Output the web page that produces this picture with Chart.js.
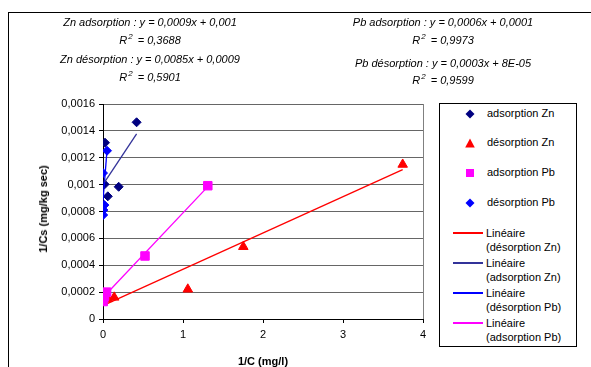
<!DOCTYPE html>
<html>
<head>
<meta charset="utf-8">
<script src="https://cdn.jsdelivr.net/npm/chart.js@4.4.1/dist/chart.umd.min.js"></script>
<style>
  html, body { margin: 0; padding: 0; background: #fff; }
  #wrap { position: relative; width: 591px; height: 367px; overflow: hidden; font-family: "Liberation Sans", Arial, sans-serif; color: #000; }
  #frame { position: absolute; left: 8px; top: 12px; width: 600px; height: 400px; border-left: 1px solid #000; border-top: 1px solid #000; box-sizing: border-box; }
  canvas { position: absolute; left: 0; top: 0; }
  .eq { position: absolute; font-size: 11px; font-style: italic; text-align: center; white-space: nowrap; transform: translateX(-50%); line-height: 12px; }
  .eq sup { font-size: 8px; vertical-align: 5px; line-height: 0; margin-left: 1px; margin-right: 2px; }
  .ttl { position: absolute; font-size: 11px; font-weight: bold; white-space: nowrap; }
  #legend { position: absolute; left: 439px; top: 103px; width: 138px; height: 244px; border: 1px solid #000; box-sizing: border-box; background: #fff; }
  .li { position: absolute; font-size: 11px; line-height: 14px; white-space: nowrap; }
  .ln { position: absolute; width: 30px; height: 2px; }
</style>
</head>
<body>
<div id="wrap">
  <div id="frame"></div>
  <canvas id="chart" width="591" height="367"></canvas>

  <div class="eq" style="left:150px; top:16px;">Zn adsorption : y = 0,0009x + 0,001</div>
  <div class="eq" style="left:150px; top:34px;">R<sup>2</sup> = 0,3688</div>
  <div class="eq" style="left:150px; top:53px;">Zn désorption : y = 0,0085x + 0,0009</div>
  <div class="eq" style="left:150px; top:71px;">R<sup>2</sup> = 0,5901</div>

  <div class="eq" style="left:443px; top:16px;">Pb adsorption : y = 0,0006x + 0,0001</div>
  <div class="eq" style="left:443px; top:34px;">R<sup>2</sup> = 0,9973</div>
  <div class="eq" style="left:443px; top:57px;">Pb désorption : y = 0,0003x + 8E-05</div>
  <div class="eq" style="left:443px; top:74px;">R<sup>2</sup> = 0,9599</div>

  <div class="ttl" id="xTitle" style="left:263px; top:355px; transform:translateX(-50%);">1/C (mg/l)</div>
  <div class="ttl" id="yTitle" style="left:43px; top:209px; transform:translate(-50%,-50%) rotate(-90deg);">1/Cs (mg/kg sec)</div>

  <div id="legend"></div>
</div>

<script>
// --- data ---
const adsZnX = [0.02, 0.025, 0.06, 0.196, 0.42];
const adsZnY = [0.001002, 0.001312, 0.000913, 0.000984, 0.001464];

const desZnX = [0.06, 0.14, 1.06, 1.754, 3.746];
const desZnY = [0.00015, 0.000161, 0.000221, 0.000538, 0.00115];

const adsPbX = [0.003, 0.008, 0.02, 0.045, 0.525, 1.31];
const adsPbY = [0.00013, 0.00015, 0.00017, 0.0002, 0.000469, 0.000992];

const desPbX = [0.0, 0.002, 0.005, 0.017, 0.05];
const desPbY = [0.001086, 0.000774, 0.000811, 0.000848, 0.001252];

// trend lines (slope, intercept) as drawn
const trendSlope = { desZn: 0.00027, adsZn: 0.0009, desPb: 0.0075, adsPb: 0.00063 };
const trendIntercept = { desZn: 0.0001, adsZn: 0.001, desPb: 0.00088, adsPb: 0.00016 };

const xTicks = [0, 1, 2, 3, 4];
const yTicks = [0, 0.0002, 0.0004, 0.0006, 0.0008, 0.001, 0.0012, 0.0014, 0.0016];

const seriesNames = ['adsorption Zn', 'désorption Zn', 'adsorption Pb', 'désorption Pb'];
const trendNames = ['Linéaire (désorption Zn)', 'Linéaire (adsorption Zn)', 'Linéaire (désorption Pb)', 'Linéaire (adsorption Pb)'];

function pts(xs, ys) {
    return xs.map((x, i) => ({ x: x, y: ys[i] }));
}

function trend(xs, key) {
    const lo = Math.min(...xs), hi = Math.max(...xs);
    return [lo, hi].map(x => ({ x: x, y: trendSlope[key] * x + trendIntercept[key] }));
}

function fmt(v) {
    return String(Number(v.toFixed(6))).replace('.', ',');
}

const FONT = '"Liberation Sans", Arial, sans-serif';

const datasets = [
    { label: seriesNames[0], data: pts(adsZnX, adsZnY), pointStyle: 'rectRot', pointRadius: 4.5,
      backgroundColor: '#000080', borderColor: '#000080', borderWidth: 1, showLine: false, order: 4 },
    { label: seriesNames[1], data: pts(desZnX, desZnY), pointStyle: 'triangle', pointRadius: 5.5,
      backgroundColor: '#FF0000', borderColor: '#FF0000', borderWidth: 1, showLine: false, order: 3 },
    { label: seriesNames[2], data: pts(adsPbX, adsPbY), pointStyle: 'rect', pointRadius: 6,
      backgroundColor: '#FF00FF', borderColor: '#FF00FF', borderWidth: 1, showLine: false, order: 2 },
    { label: seriesNames[3], data: pts(desPbX, desPbY), pointStyle: 'rectRot', pointRadius: 4.5,
      backgroundColor: '#0000FF', borderColor: '#0000FF', borderWidth: 1, showLine: false, order: 1 },
    { label: trendNames[0], data: trend(desZnX, 'desZn'), showLine: true, pointRadius: 0,
      borderColor: '#FF0000', borderWidth: 1.3, order: 0 },
    { label: trendNames[1], data: trend(adsZnX, 'adsZn'), showLine: true, pointRadius: 0,
      borderColor: '#333399', borderWidth: 1.3, order: 0 },
    { label: trendNames[2], data: trend(desPbX, 'desPb'), showLine: true, pointRadius: 0,
      borderColor: '#0000FF', borderWidth: 1.3, order: 0 },
    { label: trendNames[3], data: trend(adsPbX, 'adsPb'), showLine: true, pointRadius: 0,
      borderColor: '#FF00FF', borderWidth: 1.3, order: 0 }
];

new Chart(document.getElementById('chart'), {
    type: 'scatter',
    data: { datasets: datasets },
    options: {
        responsive: false,
        animation: false,
        devicePixelRatio: 1,
        layout: { padding: { left: 0, top: 104, right: 168, bottom: 0 } },
        plugins: { legend: { display: false }, tooltip: { enabled: false } },
        scales: {
            x: {
                type: 'linear', min: 0, max: 4,
                afterBuildTicks: s => { s.ticks = xTicks.map(v => ({ value: v })); },
                afterFit: s => { s.height = 48; },
                ticks: { color: '#000', font: { family: FONT, size: 11 }, padding: 5, callback: v => fmt(v) },
                grid: {
                    color: c => (c.tick && c.tick.value === 4 ? '#808080' : 'rgba(0,0,0,0)'),
                    tickColor: '#000', tickLength: 4, drawOnChartArea: true
                },
                border: { color: '#000', width: 1 }
            },
            y: {
                type: 'linear', min: 0, max: 0.0016,
                afterBuildTicks: s => { s.ticks = yTicks.map(v => ({ value: v })); },
                afterFit: s => { s.width = 103; },
                ticks: { color: '#000', font: { family: FONT, size: 11 }, padding: 4, callback: v => fmt(v) },
                grid: { color: '#666666', tickColor: '#000', tickLength: 4 },
                border: { color: '#000', width: 1 }
            }
        }
    }
});

// legend box, built from the same names and colours
const legend = document.getElementById('legend');
const markerSvg = [
    '<svg width="10" height="10"><polygon points="5,0.5 9.5,5 5,9.5 0.5,5" fill="#000080"/></svg>',
    '<svg width="10" height="10"><polygon points="5,0.5 9.8,9.5 0.2,9.5" fill="#FF0000"/></svg>',
    '<svg width="10" height="10"><rect x="1" y="1" width="8" height="8" fill="#FF00FF"/></svg>',
    '<svg width="10" height="10"><polygon points="5,0.5 9.5,5 5,9.5 0.5,5" fill="#0000FF"/></svg>'
];
const lineColors = ['#FF0000', '#333399', '#0000FF', '#FF00FF'];
const itemTops = [9, 38, 68, 98];
seriesNames.forEach((n, i) => {
    const m = document.createElement('div');
    m.className = 'li';
    m.style.left = '25px';
    m.style.top = (itemTops[i] - 5) + 'px';
    m.innerHTML = markerSvg[i];
    legend.appendChild(m);
    const t = document.createElement('div');
    t.className = 'li';
    t.style.left = '47px';
    t.style.top = (itemTops[i] - 7) + 'px';
    t.textContent = n;
    legend.appendChild(t);
});
const lineTops = [129, 159, 189, 219];
trendNames.forEach((n, i) => {
    const l = document.createElement('div');
    l.className = 'ln';
    l.style.left = '13px';
    l.style.top = (lineTops[i] - 1) + 'px';
    l.style.backgroundColor = lineColors[i];
    legend.appendChild(l);
    const parts = n.split(' ');
    const t = document.createElement('div');
    t.className = 'li';
    t.style.left = '46px';
    t.style.top = (lineTops[i] - 7) + 'px';
    t.innerHTML = parts[0] + '<br>' + parts.slice(1).join(' ');
    legend.appendChild(t);
});
</script>
</body>
</html>
